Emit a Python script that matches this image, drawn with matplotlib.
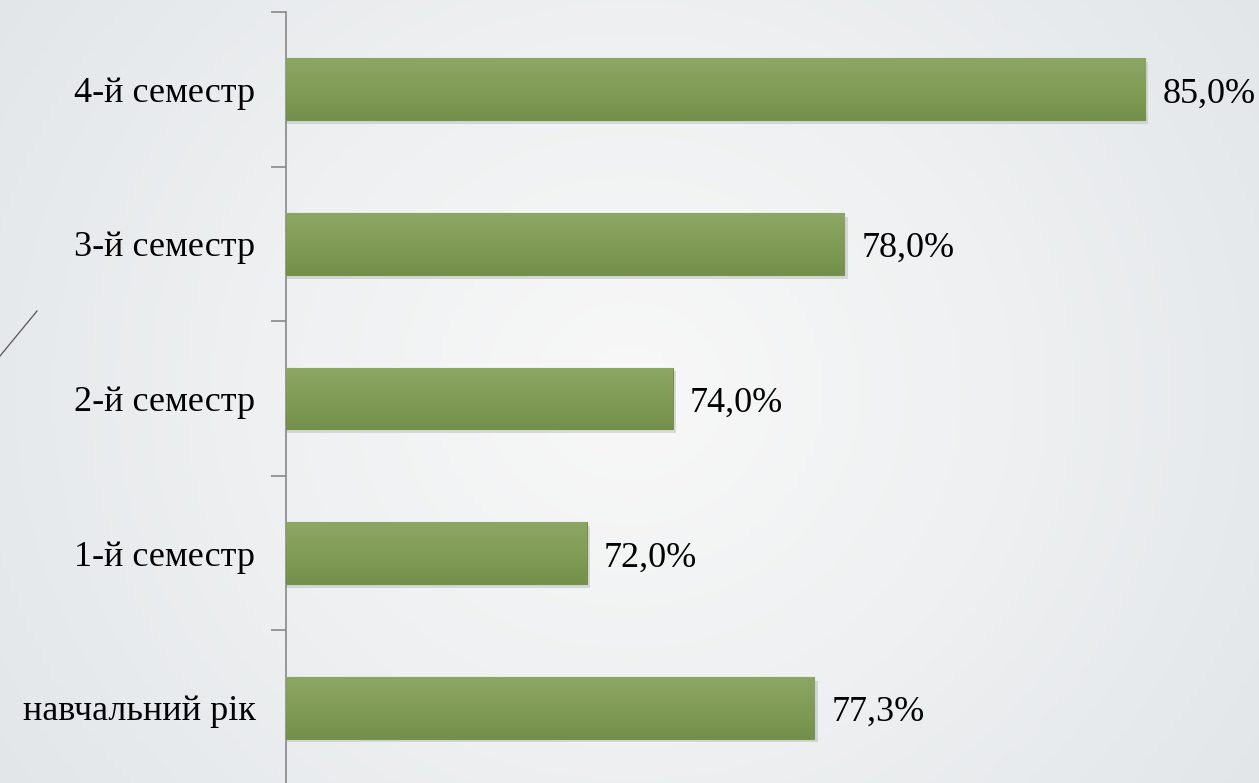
import matplotlib.pyplot as plt
import numpy as np
from matplotlib.colors import LinearSegmentedColormap
from matplotlib.lines import Line2D

categories = ['навчальний рік', '1-й семестр', '2-й семестр', '3-й семестр', '4-й семестр']
values = [77.3, 72.0, 74.0, 78.0, 85.0]
value_labels = ['77,3%', '72,0%', '74,0%', '78,0%', '85,0%']

plt.rcParams['font.family'] = ['Liberation Serif', 'DejaVu Serif']

fig = plt.figure(figsize=(12.59, 7.83), dpi=100)

# slide-like background gradient
bg = fig.add_axes([0, 0, 1, 1], zorder=-10)
xx, yy = np.meshgrid(np.linspace(-1, 1, 400), np.linspace(-1, 1, 250))
r = np.sqrt((xx * 0.9) ** 2 + (yy * 0.6) ** 2)
bg_cmap = LinearSegmentedColormap.from_list('bg', ['#f8f8f8', '#eef0f1', '#e2e6e9'])
bg.imshow(r, cmap=bg_cmap, aspect='auto', extent=[0, 1, 0, 1], vmin=0, vmax=1.1)
bg.axis('off')

# decorative diagonal stroke at left
fig.add_artist(Line2D([0, 37 / 1259], [1 - 356 / 783, 1 - 311 / 783],
                      color='#555555', lw=0.9, transform=fig.transFigure))

ax = fig.add_axes([286 / 1259, -2 / 783, 1 - 286 / 1259, (783 - 12 + 2) / 783])
ax.set_facecolor('none')

y = np.arange(len(categories))
h = 0.4
x0 = 65
bars = ax.barh(y, [v - x0 for v in values], left=x0, height=h,
               color='#80994f', edgecolor='#789245', linewidth=0.8, zorder=3)

bar_cmap = LinearSegmentedColormap.from_list('bar', ['#8ca664', '#819c56', '#73904a'])
grad = np.linspace(0, 1, 64).reshape(-1, 1)
for yi, v, b in zip(y, values, bars):
    # soft shadow
    ax.barh(yi - 0.025, v - x0 + 0.08, left=x0, height=h, color='#b9bdc0',
            alpha=0.5, linewidth=0, zorder=2)
    im = ax.imshow(grad, cmap=bar_cmap, aspect='auto', zorder=4,
                   extent=[x0, v, yi - h / 2, yi + h / 2], origin='upper')
    im.set_clip_path(b)

for yi, v, lab in zip(y, values, value_labels):
    ax.text(v + 0.4, yi - 0.03, lab, va='center', ha='left', fontsize=26, color='black')

ax.set_xlim(x0, x0 + (1259 - 286) / 42.95)
ax.set_ylim(-0.5, len(categories) - 0.5)
ax.set_yticks(y)
ax.set_yticklabels(categories, fontsize=26)
ax.set_yticks(np.arange(-0.5, len(categories), 1), minor=True)
ax.tick_params(axis='y', which='major', length=0, pad=22)
ax.tick_params(axis='y', which='minor', length=11, width=1.2, color='#888888')
ax.set_xticks([])
for s in ['top', 'right', 'bottom']:
    ax.spines[s].set_visible(False)
ax.spines['left'].set_color('#888888')
ax.spines['left'].set_linewidth(1.2)

plt.savefig('out.png', dpi=100)
